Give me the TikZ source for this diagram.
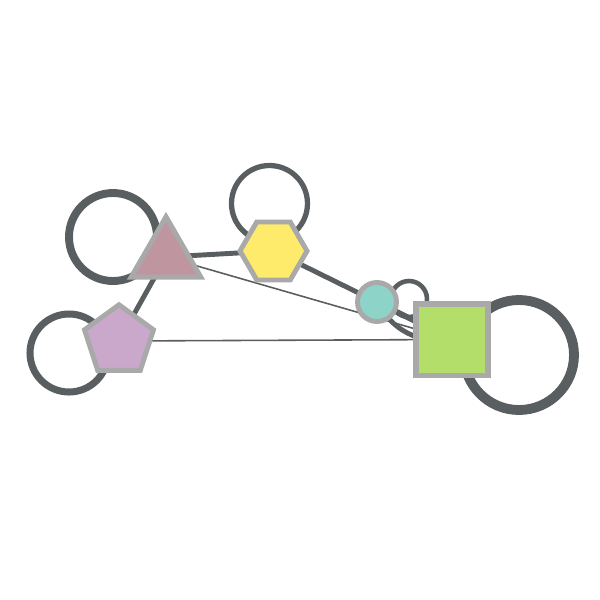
\documentclass[tikz,border=0pt]{standalone}
\usepackage{xcolor}
\usetikzlibrary{shapes.geometric,backgrounds}

\definecolor{edgegray}{HTML}{595E60}
\definecolor{rimgray}{HTML}{A9A9A9}
\definecolor{trifill}{HTML}{BF95A0}
\definecolor{hexfill}{HTML}{FFEB6B}
\definecolor{pentfill}{HTML}{CAA8CC}
\definecolor{circfill}{HTML}{8DD3C7}
\definecolor{sqfill}{HTML}{B3DE69}

\begin{document}
\begin{tikzpicture}[
  x=0.02cm, y=-0.02cm,
  vtx/.style={
    draw=rimgray, line width=2.8pt, inner sep=0pt
  },
  tri/.style={
    vtx, regular polygon, regular polygon sides=3,
    minimum size=1.61cm, fill=trifill
  },
  hex/.style={
    vtx, regular polygon, regular polygon sides=6,
    minimum size=1.34cm, fill=hexfill
  },
  pent/.style={
    vtx, regular polygon, regular polygon sides=5,
    minimum size=1.45cm, fill=pentfill
  },
  dot/.style={
    vtx, circle, minimum size=0.78cm, fill=circfill
  },
  box/.style={
    vtx, rectangle, line width=3.4pt,
    minimum size=1.44cm, fill=sqfill
  },
  link/.style={draw=edgegray, line width=2.8pt},
  thin link/.style={draw=edgegray, line width=0.9pt},
  ring/.style={draw=edgegray},
]

\useasboundingbox (0,0) rectangle (600,600);

\node[tri]  (tri)  at (166, 257)   {};
\node[hex]  (hex)  at (273.5, 251) {};
\node[pent] (pent) at (119, 341)   {};
\node[dot]  (circ) at (377, 302)   {};
\node[box]  (sq)   at (452, 339.5) {};

\begin{pgfonlayer}{background}
  % self loops
  \draw[ring, line width=4.5pt] (tri)  ++(-53,-20)  circle[radius=44];
  \draw[ring, line width=3pt]   (hex)  ++(-4,-47.5) circle[radius=38];
  \draw[ring, line width=4pt]   (pent) ++(-50,12)   circle[radius=39];
  \draw[ring, line width=5.6pt] (sq)   ++(67,15.5)  circle[radius=55];
  \draw[ring, line width=2.6pt] (circ) ++(32,-3)    circle[radius=18];

  % edges
  \draw[link]      (tri.center)  -- (hex.center);
  \draw[link]      (pent.center) -- (tri.center);
  \draw[link]      (hex.center)  -- (circ.center);
  \draw[link, line width=3.2pt] (circ.center) -- (sq.center);
  \draw[link]      (circ.center) to[bend right=35] (sq.center);
  \draw[thin link] (tri.center)  -- (sq.center);
  \draw[thin link] (pent.center) -- (sq.center);
\end{pgfonlayer}

\end{tikzpicture}
\end{document}
